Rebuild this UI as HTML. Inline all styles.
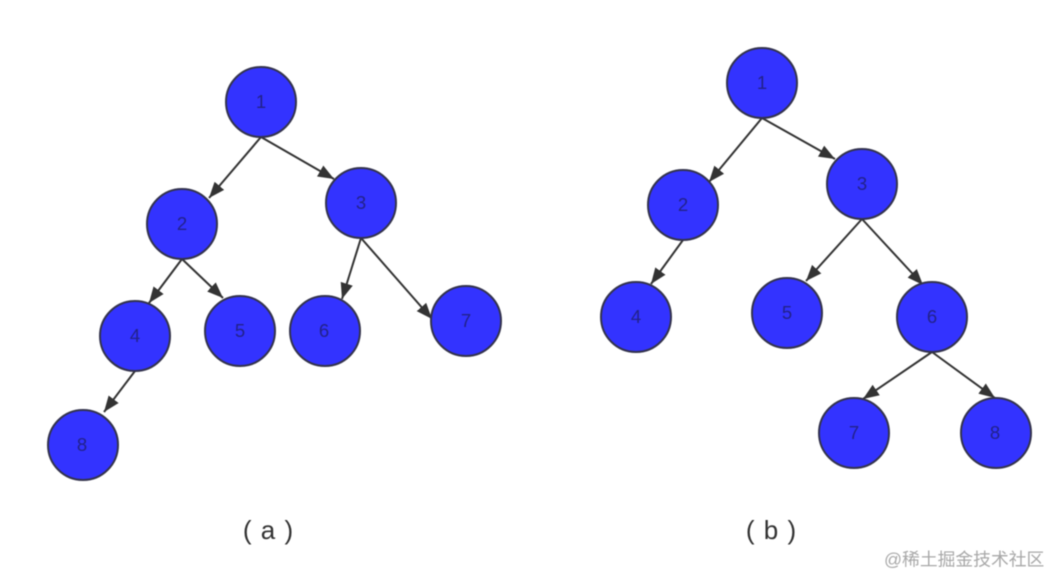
<!DOCTYPE html>
<html><head><meta charset="utf-8">
<style>
html,body{margin:0;padding:0;background:#fff;width:1063px;height:588px;overflow:hidden}
svg{display:block;filter:blur(.4px)}
.n{fill:#3333ff;stroke:#33334d;stroke-width:2}
.t{font:18.5px "Liberation Sans",sans-serif;fill:#22228a;text-anchor:middle}
.l{stroke:#333;stroke-width:2;fill:none;marker-end:url(#a)}
.c{font:26px "Liberation Sans",sans-serif;fill:#333;text-anchor:middle;word-spacing:2px}
.w{font:17.8px "Liberation Sans","Noto Sans CJK SC",sans-serif;fill:#a8a8a8}
</style></head><body>
<svg width="1063" height="588" viewBox="0 0 1063 588" xmlns="http://www.w3.org/2000/svg">
<defs><marker id="a" markerUnits="userSpaceOnUse" markerWidth="18" markerHeight="14" refX="16" refY="7" orient="auto"><path d="M0 .7L16 7L0 13.3Z" fill="#333"/></marker></defs>
<path class="l" d="M261 137L209 198"/>
<path class="l" d="M261 137L334 179"/>
<path class="l" d="M182 259L149 303"/>
<path class="l" d="M182 259L223 298"/>
<path class="l" d="M361 238L342 299"/>
<path class="l" d="M361 238L432 319"/>
<path class="l" d="M135 371L104 412"/>
<path class="l" d="M762 118L709 182"/>
<path class="l" d="M762 118L835 159"/>
<path class="l" d="M683 240L651 284"/>
<path class="l" d="M862 219L806 281"/>
<path class="l" d="M862 219L923 285"/>
<path class="l" d="M932 352L863 399"/>
<path class="l" d="M932 352L995 398"/>
<circle class="n" cx="261" cy="102" r="35"/><text class="t" x="261" y="108">1</text>
<circle class="n" cx="182" cy="224" r="35"/><text class="t" x="182" y="230">2</text>
<circle class="n" cx="361" cy="203" r="35"/><text class="t" x="361" y="209">3</text>
<circle class="n" cx="135" cy="336" r="35"/><text class="t" x="135" y="342">4</text>
<circle class="n" cx="240" cy="331" r="35"/><text class="t" x="240" y="337">5</text>
<circle class="n" cx="325" cy="331" r="35"/><text class="t" x="324" y="337">6</text>
<circle class="n" cx="466" cy="321" r="35"/><text class="t" x="466" y="327">7</text>
<circle class="n" cx="83" cy="445" r="35"/><text class="t" x="82" y="451">8</text>
<circle class="n" cx="762" cy="83" r="35"/><text class="t" x="762" y="89">1</text>
<circle class="n" cx="683" cy="205" r="35"/><text class="t" x="683" y="211">2</text>
<circle class="n" cx="862" cy="184" r="35"/><text class="t" x="862" y="190">3</text>
<circle class="n" cx="636" cy="317" r="35"/><text class="t" x="636" y="323">4</text>
<circle class="n" cx="787" cy="313" r="35"/><text class="t" x="787" y="319">5</text>
<circle class="n" cx="932" cy="317" r="35"/><text class="t" x="932" y="323">6</text>
<circle class="n" cx="854" cy="433" r="35"/><text class="t" x="854" y="439">7</text>
<circle class="n" cx="996" cy="433" r="35"/><text class="t" x="995" y="439">8</text>
<text class="c" x="268" y="539" xml:space="preserve">( a )</text>
<text class="c" x="771" y="539" xml:space="preserve">( b )</text>
<text class="w" x="884" y="565.5">@稀土掘金技术社区</text>
</svg>
</body></html>
